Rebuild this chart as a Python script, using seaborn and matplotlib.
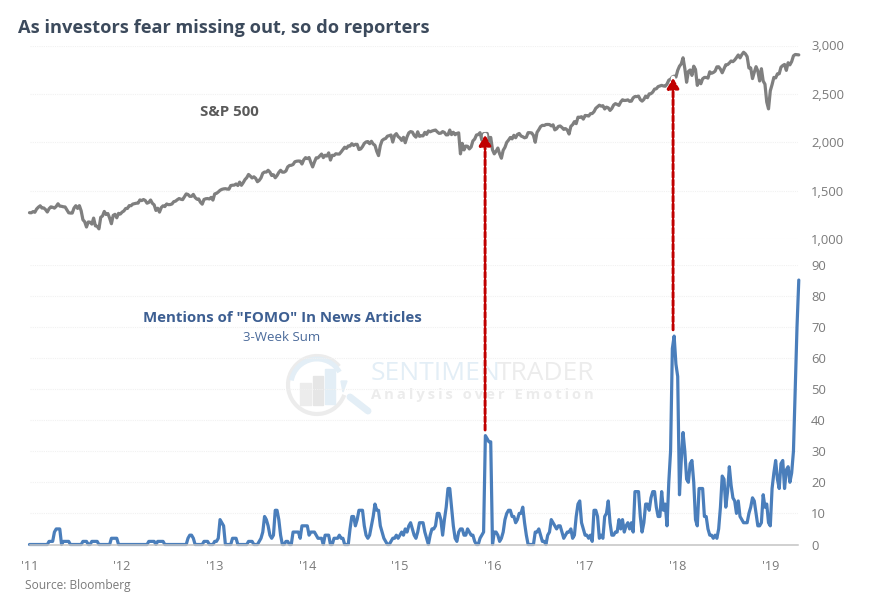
"""FOMO news mentions against the S&P 500, two stacked panes on a shared year axis."""

import numpy as np
import matplotlib
matplotlib.use("Agg")
import matplotlib.pyplot as plt
from matplotlib.patches import Arc, ConnectionPatch, Polygon, Rectangle
import seaborn as sns

# ---------------------------------------------------------------------------
# Data
# ---------------------------------------------------------------------------

YEARS = [2011, 2012, 2013, 2014, 2015, 2016, 2017, 2018, 2019]
YEAR_LABELS = ["'11", "'12", "'13", "'14", "'15", "'16", "'17", "'18", "'19"]

# S&P 500, weekly
spx_2011 = [1272, 1271, 1283, 1276, 1310, 1329, 1343, 1320, 1321, 1304, 1279, 1313, 1332,
            1328, 1319, 1337, 1364, 1340, 1338, 1333, 1331, 1300, 1271, 1268, 1268, 1320,
            1344, 1316, 1345, 1292, 1199, 1178, 1124, 1176, 1174, 1154, 1216, 1136, 1131,
            1105, 1224, 1238, 1285, 1253, 1263, 1216, 1158, 1244, 1255, 1219, 1265, 1258]
spx_2012 = [1278, 1290, 1315, 1316, 1345, 1344, 1361, 1366, 1370, 1371, 1404, 1397, 1408,
            1398, 1370, 1378, 1403, 1369, 1353, 1295, 1318, 1278, 1325, 1343, 1335, 1362,
            1355, 1356, 1362, 1386, 1391, 1406, 1418, 1411, 1407, 1437, 1466, 1460, 1441,
            1441, 1461, 1429, 1412, 1414, 1380, 1360, 1409, 1416, 1418, 1414, 1430, 1402]
spx_2013 = [1466, 1472, 1486, 1503, 1513, 1518, 1520, 1516, 1515, 1552, 1556, 1557, 1569,
            1553, 1588, 1555, 1582, 1614, 1634, 1667, 1650, 1631, 1643, 1627, 1592, 1606,
            1632, 1680, 1692, 1692, 1710, 1691, 1656, 1664, 1633, 1656, 1688, 1710, 1691,
            1691, 1703, 1745, 1760, 1762, 1770, 1798, 1804, 1806, 1805, 1775, 1818, 1841]
spx_2014 = [1831, 1842, 1790, 1745, 1795, 1839, 1839, 1859, 1878, 1841, 1866, 1857, 1890,
            1816, 1865, 1863, 1881, 1878, 1878, 1900, 1924, 1949, 1937, 1962, 1961, 1985,
            1967, 1978, 1978, 1925, 1931, 1955, 1988, 2003, 2007, 1985, 2010, 1982, 1968,
            1906, 1862, 1965, 2018, 2032, 2039, 2063, 2068, 2075, 2002, 2071, 2089, 2059]
spx_2015 = [2044, 2019, 2051, 1995, 2055, 2097, 2110, 2105, 2071, 2053, 2108, 2061, 2067,
            2066, 2102, 2081, 2117, 2108, 2116, 2122, 2126, 2107, 2092, 2094, 2110, 2101,
            2076, 2077, 2126, 2079, 2103, 2078, 2091, 2097, 1880, 1989, 1921, 1961, 1958,
            1931, 1951, 2014, 2033, 2075, 2079, 2099, 2023, 2089, 2090, 2091, 2012, 2050]
spx_2016 = [1922, 1880, 1906, 1940, 1880, 1835, 1917, 1948, 1999, 2022, 2049, 2035, 2072,
            2047, 2081, 2091, 2065, 2057, 2046, 2052, 2099, 2099, 2096, 2071, 2000, 2102,
            2130, 2162, 2175, 2173, 2183, 2184, 2183, 2169, 2180, 2128, 2139, 2164, 2168,
            2153, 2133, 2141, 2126, 2085, 2164, 2182, 2213, 2192, 2259, 2258, 2264, 2239]
spx_2017 = [2277, 2275, 2271, 2295, 2297, 2316, 2351, 2367, 2383, 2373, 2378, 2344, 2363,
            2356, 2329, 2349, 2384, 2399, 2391, 2381, 2416, 2439, 2432, 2433, 2438, 2423,
            2425, 2459, 2473, 2472, 2477, 2441, 2425, 2443, 2477, 2461, 2500, 2502, 2519,
            2549, 2553, 2575, 2581, 2588, 2582, 2579, 2602, 2642, 2652, 2675, 2683, 2674]
spx_2018 = [2743, 2786, 2810, 2873, 2762, 2620, 2732, 2747, 2691, 2786, 2752, 2588, 2641,
            2605, 2656, 2670, 2670, 2663, 2728, 2713, 2721, 2735, 2779, 2780, 2755, 2718,
            2759, 2801, 2802, 2819, 2840, 2833, 2850, 2875, 2902, 2872, 2905, 2930, 2914,
            2885, 2767, 2768, 2658, 2723, 2781, 2736, 2633, 2760, 2633, 2600, 2416, 2345]
spx_2019 = [2532, 2596, 2670, 2665, 2707, 2708, 2776, 2793, 2804, 2743, 2822, 2800, 2834,
            2893, 2907, 2905, 2903]

# Mentions of "FOMO", weekly
fomo_2011 = [0, 0, 0, 0, 0, 0, 0, 0, 0, 0, 0, 1, 1, 1, 4, 5, 5, 5, 0, 1, 1, 1, 1, 0, 0, 0,
             0, 0, 0, 0, 1, 1, 1, 0, 0, 1, 1, 1, 1, 0, 0, 0, 0, 0, 0, 0, 2, 2, 2, 2, 0, 0]
fomo_2012 = [0, 0, 0, 0, 0, 0, 0, 0, 0, 0, 0, 0, 0, 0, 0, 1, 1, 1, 1, 0, 1, 1, 1, 1, 0, 0,
             0, 0, 0, 0, 0, 0, 0, 0, 0, 0, 0, 2, 3, 3, 2, 0, 0, 0, 0, 0, 1, 1, 1, 0, 0, 0]
fomo_2013 = [1, 1, 2, 8, 7, 6, 0, 0, 0, 0, 2, 2, 2, 0, 0, 0, 0, 0, 0, 1, 1, 1, 0, 0, 0, 1,
             2, 4, 9, 8, 6, 3, 2, 3, 11, 11, 8, 3, 0, 0, 1, 1, 0, 0, 4, 4, 4, 4, 2, 6, 6, 6]
fomo_2014 = [6, 3, 4, 4, 4, 3, 2, 2, 2, 0, 3, 3, 3, 0, 0, 2, 2, 2, 3, 2, 2, 0, 0, 0, 5, 9,
             9, 6, 8, 11, 11, 11, 6, 3, 2, 3, 6, 9, 13, 11, 11, 6, 4, 2, 1, 0, 0, 1, 2, 2, 3, 2]
fomo_2015 = [3, 4, 3, 5, 4, 6, 7, 5, 3, 2, 4, 7, 7, 7, 4, 2, 0, 3, 5, 5, 6, 10, 10, 8, 3, 8,
             12, 18, 18, 12, 6, 2, 1, 4, 5, 5, 3, 3, 5, 4, 3, 3, 1, 0, 0, 2, 3, 4, 35, 34, 33, 33]
fomo_2016 = [0, 4, 4, 3, 1, 2, 4, 8, 10, 11, 11, 9, 9, 7, 8, 10, 10, 12, 7, 3, 0, 0, 0, 0, 4, 4,
             5, 3, 1, 1, 0, 3, 4, 8, 7, 6, 5, 6, 6, 4, 2, 3, 4, 4, 5, 2, 3, 9, 13, 14, 7, 5]
fomo_2017 = [3, 3, 2, 3, 1, 11, 11, 9, 2, 3, 2, 9, 10, 14, 7, 3, 3, 4, 4, 8, 5, 8, 4, 6, 7, 5,
             7, 4, 17, 17, 17, 9, 4, 7, 13, 13, 11, 15, 17, 17, 12, 9, 9, 17, 11, 13, 6, 20, 30, 63, 67, 58]
fomo_2018 = [54, 16, 27, 36, 30, 21, 20, 26, 27, 20, 8, 6, 18, 18, 18, 9, 9, 5, 3, 3, 2, 3, 2, 5, 12, 22,
             21, 12, 17, 25, 19, 15, 14, 10, 14, 9, 8, 7, 7, 7, 10, 12, 15, 14, 10, 6, 6, 7, 16, 12, 13, 7]
fomo_2019 = [6, 18, 23, 27, 21, 18, 26, 27, 18, 24, 25, 20, 23, 30, 50, 70, 85]

# Where the two red arrows start (FOMO pane) and end (S&P pane)
arrow_years = [2015.92, 2017.95]
arrow_from = [36.8, 69]
arrow_to = [2075, 2665]

SPX_TICKS = [1000, 1500, 2000, 2500, 3000]
FOMO_TICKS = [0, 10, 20, 30, 40, 50, 60, 70, 80, 90]

spx_by_year = [spx_2011, spx_2012, spx_2013, spx_2014, spx_2015,
               spx_2016, spx_2017, spx_2018, spx_2019]
fomo_by_year = [fomo_2011, fomo_2012, fomo_2013, fomo_2014, fomo_2015,
                fomo_2016, fomo_2017, fomo_2018, fomo_2019]


def stitch(by_year, per_year=52):
    """Join the per-year lists into one (decimal year, value) pair of arrays."""
    xs, ys = [], []
    for year, vals in zip(YEARS, by_year):
        xs.extend(year + i / per_year for i in range(len(vals)))
        ys.extend(vals)
    return np.array(xs), np.array(ys)


# ---------------------------------------------------------------------------
# Page
# ---------------------------------------------------------------------------

W, H = 872, 600
LEFT, RIGHT = 29.5, 798.0
GRID = "#f1f1f1"
LABEL = "#7a7a7a"

sns.set_theme(style="white")
plt.rcParams["font.family"] = ["Open Sans", "DejaVu Sans"]

fig = plt.figure(figsize=(W / 100, H / 100), dpi=100, facecolor="white")


def pane(top, bottom):
    return fig.add_axes([LEFT / W, 1 - bottom / H, (RIGHT - LEFT) / W, (bottom - top) / H],
                        facecolor="none")


page = fig.add_axes([0, 0, 1, 1], facecolor="none")
page.set_xlim(0, W)
page.set_ylim(H, 0)
page.axis("off")

ax_spx = pane(45.5, 239)
ax_fomo = pane(264.5, 544.5)

# ---------------------------------------------------------------------------
# Watermark
# ---------------------------------------------------------------------------

BLUE_WM = "#e3eef6"
GREY_WM = "#ececec"
page.add_patch(Arc((317, 385), 58, 58, theta1=20, theta2=320, color=GREY_WM, lw=3))
page.add_patch(Arc((317, 385), 52, 52, theta1=190, theta2=330, color=BLUE_WM, lw=3.5))
page.add_patch(Rectangle((300, 383), 11, 22, color="#ececec"))
page.add_patch(Rectangle((313, 376), 10, 29, color="#e6e6e6"))
page.add_patch(Rectangle((325, 369), 10, 35, color=BLUE_WM))
page.add_patch(Polygon([(343, 392), (341, 381), (347, 381)], color=BLUE_WM))
page.plot([350, 368], [397, 411], color=BLUE_WM, lw=5, solid_capstyle="round")
page.text(371, 374, "SENTIMEN", color=BLUE_WM, fontsize=19, va="center", ha="left")
page.text(497, 374, "TRADER", color=GREY_WM, fontsize=19, va="center", ha="left")
page.text(371, 395, "\u2009".join("Analysis over Emotion"), color=GREY_WM, fontsize=10.6,
          fontweight="bold", va="center", ha="left")

# ---------------------------------------------------------------------------
# Series
# ---------------------------------------------------------------------------

spx_x, spx_y = stitch(spx_by_year)
fomo_x, fomo_y = stitch(fomo_by_year)

sns.lineplot(x=spx_x, y=spx_y, ax=ax_spx, color="#7f7f7f", linewidth=2.3,
             estimator=None, errorbar=None, clip_on=False)
sns.lineplot(x=fomo_x, y=fomo_y, ax=ax_fomo, color="#4a7ebb", linewidth=2.3,
             estimator=None, errorbar=None, clip_on=False)

for ax, ticks, top in ((ax_spx, SPX_TICKS, 3000), (ax_fomo, FOMO_TICKS, 90)):
    ax.set_xlim(2011, 2011 + (RIGHT - LEFT) / 92.6)
    ax.set_ylim(ticks[0], top)
    ax.set_yticks(ticks)
    ax.yaxis.tick_right()
    ax.grid(axis="y", color=GRID, linestyle=(0, (1, 1)), linewidth=0.8)
    ax.set_axisbelow(True)
    ax.tick_params(axis="y", length=0, pad=9.5, labelsize=9.4, labelcolor=LABEL)
    ax.set_xlabel("")
    ax.set_ylabel("")
    for side in ("top", "left", "right", "bottom"):
        ax.spines[side].set_visible(False)

ax_spx.set_xticks([])
ax_spx.set_yticklabels([f"{t:,}" for t in SPX_TICKS])

ax_fomo.set_xticks(YEARS)
ax_fomo.set_xticklabels(YEAR_LABELS)
ax_fomo.spines["bottom"].set_visible(True)
ax_fomo.spines["bottom"].set_color("#c4c4c4")
ax_fomo.spines["bottom"].set_linewidth(1.1)
ax_fomo.tick_params(axis="x", length=3.5, width=0.8, color="#c4c4c4", pad=7.5,
                    labelsize=9.2, labelcolor=LABEL)

# ---------------------------------------------------------------------------
# Arrows between the panes
# ---------------------------------------------------------------------------

for x, start, end in zip(arrow_years, arrow_from, arrow_to):
    common = dict(xyA=(x, start), coordsA=ax_fomo.transData,
                  xyB=(x, end), coordsB=ax_spx.transData)
    fig.add_artist(ConnectionPatch(color="white", lw=3.2, zorder=4, **common))
    fig.add_artist(ConnectionPatch(color="#c00000", lw=2.1, linestyle=(0, (1.9, 0.85)),
                                   arrowstyle="-|>,head_length=0.6,head_width=0.35",
                                   mutation_scale=10, shrinkA=0, shrinkB=0, zorder=5, **common))

# ---------------------------------------------------------------------------
# Text
# ---------------------------------------------------------------------------

page.text(18, 28, "As investors fear missing out, so do reporters", color="#3c4a5c",
          fontsize=13.15, fontweight="bold", va="center", ha="left")
page.text(229.5, 112.5, "S&P 500", color="#5a5a5a", fontsize=10.8, fontweight="bold",
          va="center", ha="center")
page.text(282.5, 318.5, 'Mentions of "FOMO" In News Articles', color="#3d5f92", fontsize=10.85,
          fontweight="bold", va="center", ha="center")
page.text(281.5, 337.5, "3-Week Sum", color="#4a6a9a", fontsize=9.5, va="center", ha="center")
page.text(25, 586, "Source: Bloomberg", color="#7a7a7a", fontsize=8.6, va="center", ha="left")

fig.savefig("out.png", dpi=100)
plt.close(fig)
print("Saved -> out.png")
